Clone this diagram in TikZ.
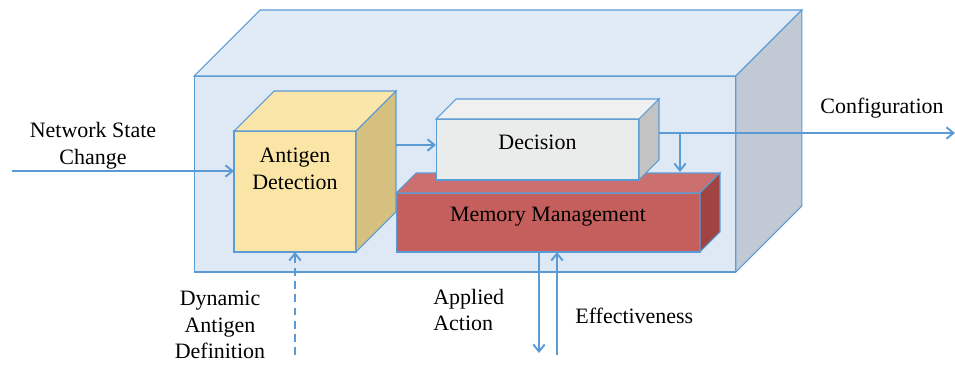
\documentclass[tikz,border=0pt]{standalone}
\usepackage{fontspec}
\setmainfont{Liberation Serif}
\usetikzlibrary{arrows.meta,calc,positioning}
\definecolor{edge}{HTML}{5B9BD5}
\definecolor{shellfront}{HTML}{DEE9F5}
\definecolor{shelltop}{HTML}{E1EBF6}
\definecolor{shellside}{HTML}{C0C9D4}
\definecolor{agfront}{HTML}{FAE5A7}
\definecolor{agtop}{HTML}{FBE6A9}
\definecolor{agside}{HTML}{D5C07F}
\definecolor{decfront}{HTML}{EAEBEB}
\definecolor{dectop}{HTML}{F0F0F0}
\definecolor{decside}{HTML}{C3C3C3}
\definecolor{memfront}{HTML}{C45F5D}
\definecolor{memtop}{HTML}{CB706E}
\definecolor{memside}{HTML}{9F4442}

% top and right faces behind a front face node: node, depth, top fill, side fill
\newcommand{\boxfaces}[4]{%
  \filldraw[draw=edge,line width=0.6pt,fill=#3] (#1.north west) -- ++(#2,-#2)
    -- ($(#1.north east)+(#2,-#2)$) -- (#1.north east) -- cycle;
  \filldraw[draw=edge,line width=0.6pt,fill=#4] (#1.north east) -- ++(#2,-#2)
    -- ($(#1.south east)+(#2,-#2)$) -- (#1.south east) -- cycle;
}

\tikzset{
  face/.style={draw=edge,line width=0.6pt,inner sep=0pt,outer sep=0pt},
  flow/.style={draw=edge,line width=1.1pt,-{Straight Barb[length=4pt,width=6.5pt]}},
  lbl/.style={align=center,inner sep=0pt}
}

\begin{document}
\begin{tikzpicture}[x=0.02cm,y=-0.02cm,font=\fontsize{12.5}{15.2}\selectfont]
\useasboundingbox (0,0) rectangle (955,365);

% outer unit
\node[face,fill=shellfront,minimum width=10.84cm,minimum height=3.92cm] (unit) at (465,174) {};
\boxfaces{unit}{66}{shelltop}{shellside}

% antigen detection cube
\node[face,fill=agfront,minimum width=2.44cm,minimum height=2.42cm,
  label={[lbl,anchor=north,yshift=-0.33cm]north:Antigen\\Detection}] (ad) at (295,191.5) {};
\boxfaces{ad}{40}{agtop}{agside}

% memory management slab
\node[face,fill=memfront,minimum width=6.08cm,minimum height=1.18cm,
  label={[lbl,yshift=0.11cm]center:Memory Management}] (mm) at (548,222.5) {};
\boxfaces{mm}{20}{memtop}{memside}

% decision slab sits on the memory
\node[face,fill=decfront,minimum width=4.06cm,minimum height=1.22cm,
  label={[lbl,yshift=0.15cm]center:Decision}] (dec) at (537.5,149.5) {};
\boxfaces{dec}{20}{dectop}{decside}

% labels
\node[lbl] (nsc) at (93,146) {Network State\\Change};
\node[lbl] (cfg) at (882,108) {Configuration};
\node[lbl] (dad) at (220,325) {Dynamic\\Antigen\\Definition};
\node[lbl,align=left,anchor=west] (aa) at (433,310) {Applied\\Action};
\node[lbl,anchor=west] (eff) at (575,316) {Effectiveness};

% connectors
\coordinate (in) at (12,171);
\coordinate (adout) at (396,145);
\coordinate (decout) at (659,133);
\coordinate (split) at (680,133);
\coordinate (mmtop) at (680,172);
\coordinate (out) at (955,133);
\coordinate (dynin) at (295,355);
\coordinate (act) at (539,353);
\coordinate (fb) at (557,355);

\draw[flow] (in) -- (in -| ad.west);
\draw[flow] (adout) -- (adout -| dec.west);
\draw[flow] (decout) -- (out);
\draw[flow] (split) -- (mmtop);
\draw[flow,dash pattern=on 4.5pt off 3pt] (dynin) -- (dynin |- ad.south);
\draw[flow] (act |- mm.south) -- (act);
\draw[flow] (fb) -- (fb |- mm.south);
\end{tikzpicture}
\end{document}
